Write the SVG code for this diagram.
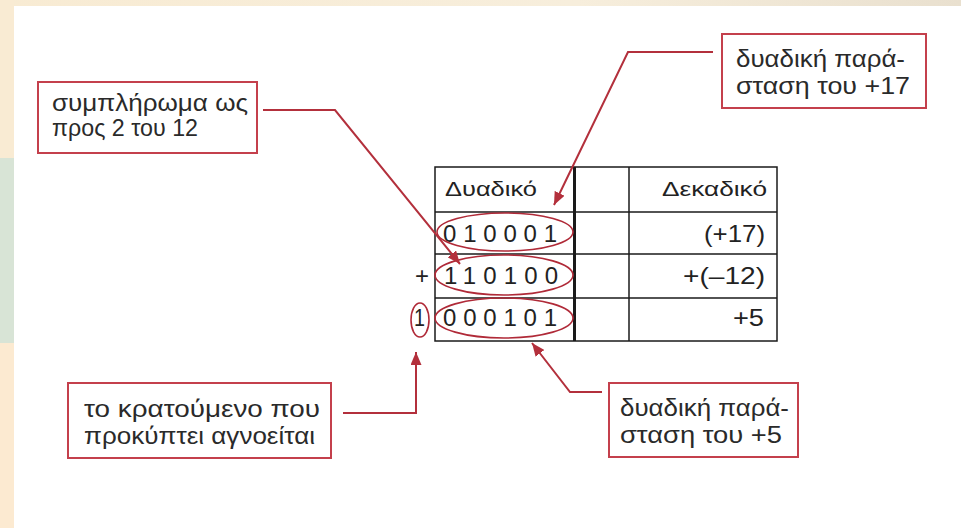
<svg xmlns="http://www.w3.org/2000/svg" width="961" height="528" viewBox="0 0 961 528">
  <defs>
    <linearGradient id="topg" x1="0" y1="0" x2="1" y2="0">
      <stop offset="0" stop-color="#f8ebd3"/>
      <stop offset="0.6" stop-color="#f7eedc"/>
      <stop offset="1" stop-color="#e9e0cf"/>
    </linearGradient>
    <marker id="ah" markerUnits="userSpaceOnUse" markerWidth="13" markerHeight="11" refX="13" refY="5.5" orient="auto">
      <path d="M0,0 L13,5.5 L0,11 z" fill="#b3303c"/>
    </marker>
    <style>
      .box { fill: #ffffff; stroke: #c4404c; stroke-width: 2; }
      .bt { font-family: "Liberation Sans", Arial, sans-serif; font-size: 24px; fill: #2a2a2a; }
      .tt { font-family: "Liberation Sans", Arial, sans-serif; font-size: 21px; fill: #222; }
      .dg { font-family: "Liberation Sans", Arial, sans-serif; font-size: 24px; fill: #222; }
      .grid { stroke: #1a1a1a; stroke-width: 1.5; fill: none; }
      .ell { fill: none; stroke: #b02a38; stroke-width: 1.6; }
      .con { fill: none; stroke: #b3303c; stroke-width: 2; }
    </style>
  </defs>

  <!-- background -->
  <rect x="0" y="0" width="961" height="528" fill="#ffffff"/>
  <rect x="0" y="0" width="961" height="6" fill="url(#topg)"/>
  <rect x="0" y="0" width="14" height="158" fill="#f9ebd3"/>
  <rect x="0" y="158" width="14" height="185" fill="#d8e4d6"/>
  <rect x="0" y="343" width="14" height="185" fill="#fcead1"/>

  <!-- table -->
  <g id="table">
    <rect class="grid" x="435" y="167" width="342" height="174"/>
    <line class="grid" x1="435" y1="212" x2="777" y2="212"/>
    <line class="grid" x1="435" y1="254" x2="777" y2="254"/>
    <line class="grid" x1="435" y1="298" x2="777" y2="298"/>
    <line x1="574.5" y1="167" x2="574.5" y2="341" stroke="#1a1a1a" stroke-width="3"/>
    <line class="grid" x1="629" y1="167" x2="629" y2="341"/>
    <text class="tt" x="445" y="196" textLength="92" lengthAdjust="spacingAndGlyphs">Δυαδικό</text>
    <text class="tt" x="767" y="196" text-anchor="end" textLength="105" lengthAdjust="spacingAndGlyphs">Δεκαδικό</text>
    <text class="dg" x="443" y="242" textLength="114" lengthAdjust="spacing">010001</text>
    <text class="dg" x="444" y="284" textLength="114" lengthAdjust="spacing">110100</text>
    <text class="dg" x="443" y="326" textLength="114" lengthAdjust="spacing">000101</text>
    <text class="dg" x="765" y="242" text-anchor="end" textLength="61" lengthAdjust="spacingAndGlyphs">(+17)</text>
    <text class="dg" x="765" y="284" text-anchor="end" textLength="82" lengthAdjust="spacingAndGlyphs">+(–12)</text>
    <text class="dg" x="764" y="326" text-anchor="end" textLength="31" lengthAdjust="spacingAndGlyphs">+5</text>
    <text class="dg" x="415" y="284" textLength="14" lengthAdjust="spacingAndGlyphs">+</text>
    <text class="dg" x="414" y="326" textLength="11" lengthAdjust="spacingAndGlyphs">1</text>
  </g>

  <!-- ellipses -->
  <g id="highlights">
    <ellipse class="ell" cx="505" cy="232" rx="68" ry="19"/>
    <ellipse class="ell" cx="504" cy="275" rx="69" ry="20"/>
    <ellipse class="ell" cx="504" cy="318" rx="69" ry="20"/>
    <ellipse class="ell" cx="420" cy="320" rx="9" ry="17"/>
  </g>

  <!-- callout boxes -->
  <g id="note-complement">
    <rect class="box" x="38" y="82" width="219" height="71"/>
    <text class="bt" x="52" y="111" textLength="196" lengthAdjust="spacingAndGlyphs">συμπλήρωμα ως</text>
    <text class="bt" x="52" y="136" textLength="146" lengthAdjust="spacingAndGlyphs">προς 2 του 12</text>
  </g>
  <g id="note-plus17">
    <rect class="box" x="722" y="34" width="204" height="74"/>
    <text class="bt" x="736" y="67" textLength="169" lengthAdjust="spacingAndGlyphs">δυαδική παρά-</text>
    <text class="bt" x="736" y="94" textLength="174" lengthAdjust="spacingAndGlyphs">σταση του +17</text>
  </g>
  <g id="note-carry">
    <rect class="box" x="68" y="383" width="263" height="75"/>
    <text class="bt" x="84" y="417" textLength="236" lengthAdjust="spacingAndGlyphs">το κρατούμενο που</text>
    <text class="bt" x="84" y="444" textLength="231" lengthAdjust="spacingAndGlyphs">προκύπτει αγνοείται</text>
  </g>
  <g id="note-plus5">
    <rect class="box" x="609" y="383" width="189" height="74"/>
    <text class="bt" x="620" y="416" textLength="169" lengthAdjust="spacingAndGlyphs">δυαδική παρά-</text>
    <text class="bt" x="620" y="443" textLength="162" lengthAdjust="spacingAndGlyphs">σταση του +5</text>
  </g>

  <!-- connectors -->
  <g id="connectors">
    <path class="con" d="M263,110 H335 L460,264" marker-end="url(#ah)"/>
    <path class="con" d="M713,52 H628 L554,205" marker-end="url(#ah)"/>
    <path class="con" d="M343,413 H416 V352" marker-end="url(#ah)"/>
    <path class="con" d="M602,392 H570 L532,343" marker-end="url(#ah)"/>
  </g>
</svg>
